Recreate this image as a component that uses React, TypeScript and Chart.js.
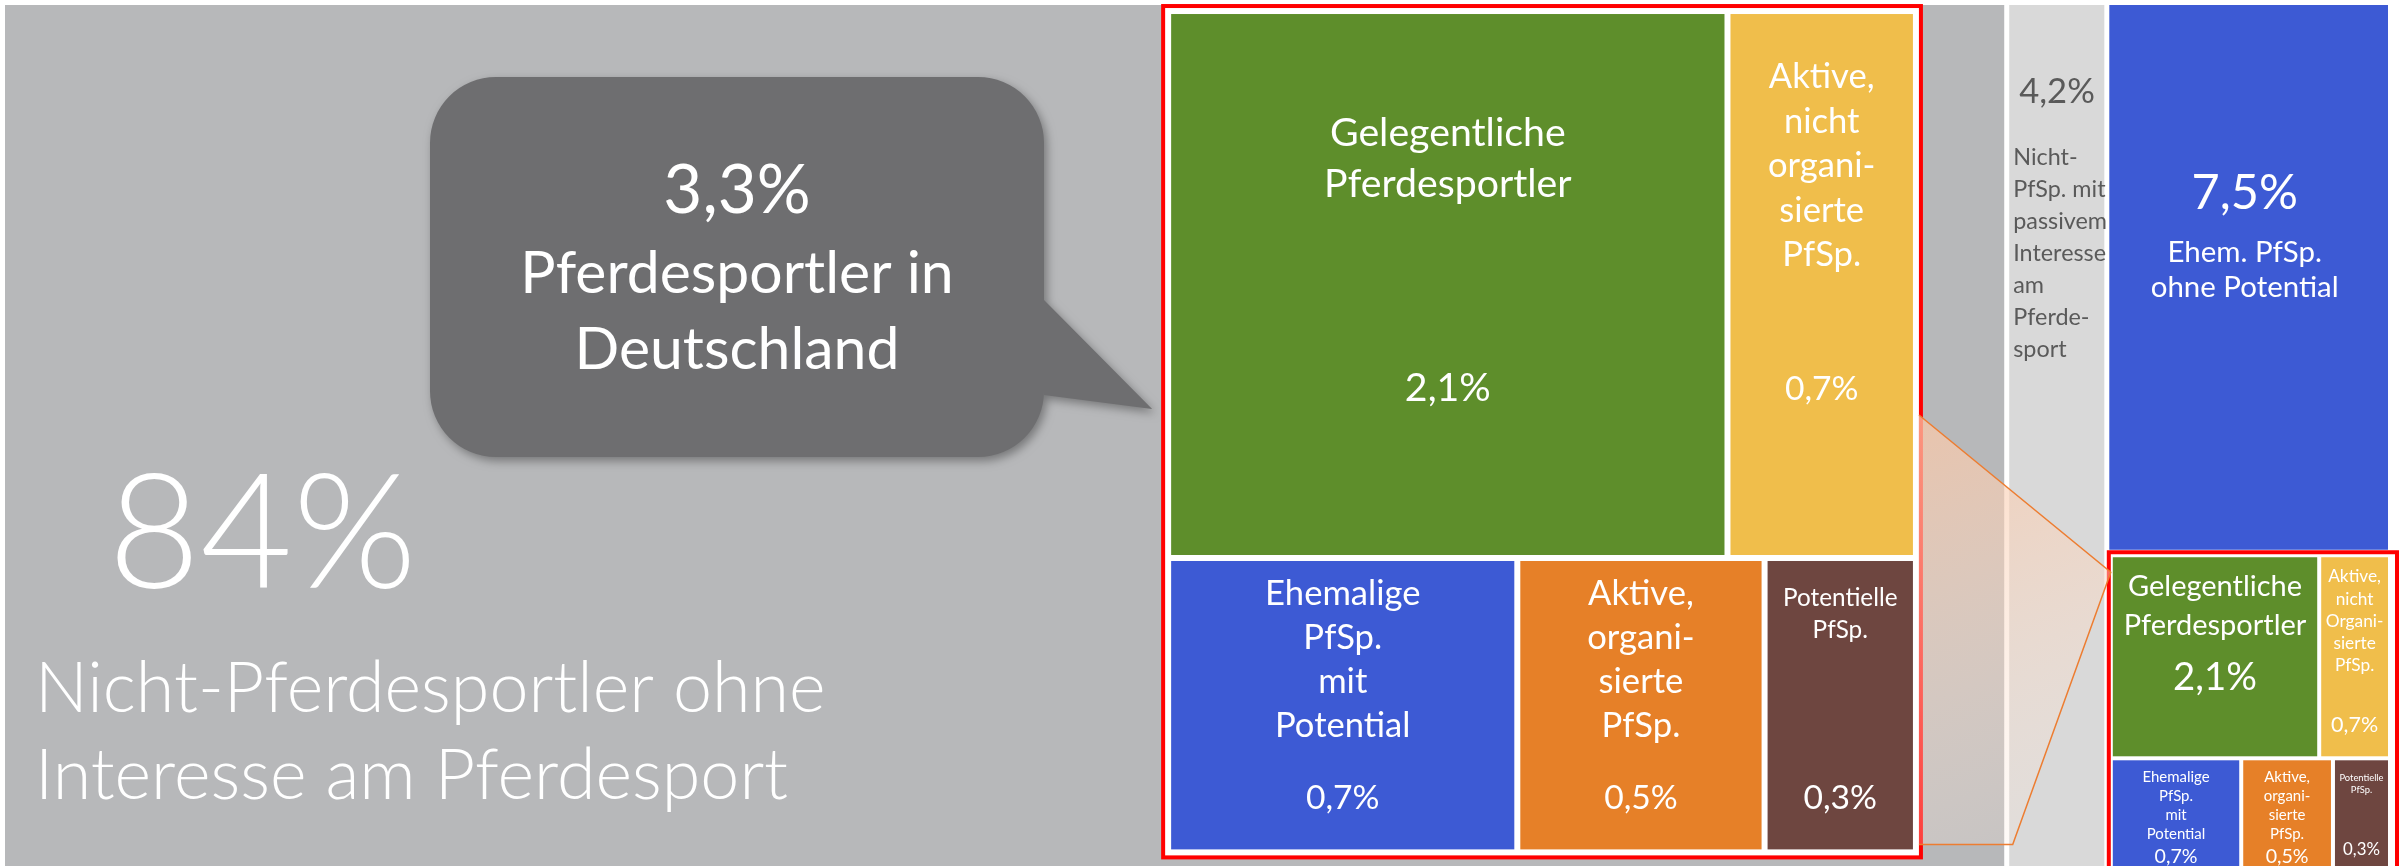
import React, { useEffect, useRef } from "react";
import { Chart, registerables } from "chart.js";

Chart.register(...registerables);

// ---------------- data ----------------
const overviewCategories = [
  "Nicht-Pferdesportler ohne Interesse am Pferdesport",
  "Nicht-PfSp. mit passivem Interesse am Pferdesport",
  "Ehem. PfSp. ohne Potential",
];
const overviewValues = [84, 4.2, 7.5];
const overviewLines = [
  ["Nicht-Pferdesportler ohne", "Interesse am Pferdesport"],
  ["Nicht-", "PfSp. mit", "passivem", "Interesse", "am", "Pferde-", "sport"],
  ["Ehem. PfSp.", "ohne Potential"],
];

const detailCategories = [
  "Gelegentliche Pferdesportler",
  "Aktive, nicht organisierte PfSp.",
  "Ehemalige PfSp. mit Potential",
  "Aktive, organisierte PfSp.",
  "Potentielle PfSp.",
];
const detailValues = [2.1, 0.7, 0.7, 0.5, 0.3];
const detailRows = [
  [0, 1],
  [2, 3, 4],
];
const detailLinesZoom = [
  ["Gelegentliche", "Pferdesportler"],
  ["Aktive,", "nicht", "organi-", "sierte", "PfSp."],
  ["Ehemalige", "PfSp.", "mit", "Potential"],
  ["Aktive,", "organi-", "sierte", "PfSp."],
  ["Potentielle", "PfSp."],
];
const detailLinesInset = [
  ["Gelegentliche", "Pferdesportler"],
  ["Aktive,", "nicht", "Organi-", "sierte", "PfSp."],
  ["Ehemalige", "PfSp.", "mit", "Potential"],
  ["Aktive,", "organi-", "sierte", "PfSp."],
  ["Potentielle", "PfSp."],
];

const calloutValue = 3.3;
const calloutLines = ["Pferdesportler in", "Deutschland"];

// ---------------- styles ----------------
const overviewColors = ["#b7b8ba", "#d9d9d9", "#3d5ad4"];
const detailColors = ["#5e8e2b", "#f0be4b", "#3d5ad4", "#e68028", "#6e4640"];
const FRAME_RED = "#ff0000";
const CONNECTOR = "#ed7d31";
const BUBBLE = "#6e6e70";
const GRAYTEXT = "#5a5a5a";
const FONT = 'Lato, "Open Sans", "DejaVu Sans", sans-serif';

type CellText = { first: number; step: number; size: number; value: number; vsize: number };
const zoomTextLayout: CellText[] = [
  { first: 132, step: 51, size: 42, value: 387, vsize: 42 },
  { first: 74, step: 44.5, size: 37, value: 386, vsize: 36 },
  { first: 44, step: 44, size: 37, value: 248, vsize: 36 },
  { first: 44, step: 44, size: 37, value: 248, vsize: 36 },
  { first: 45, step: 32, size: 26, value: 248, vsize: 36 },
];
const insetTextLayout: CellText[] = [
  { first: 39, step: 39, size: 31, value: 133, vsize: 41 },
  { first: 25, step: 22.3, size: 18.5, value: 175, vsize: 23 },
  { first: 22, step: 19, size: 16, value: 103, vsize: 21 },
  { first: 22, step: 19, size: 16, value: 103, vsize: 21 },
  { first: 21, step: 12, size: 10, value: 95, vsize: 18 },
];

// magnified copy of the detail group, in data units of the main scales
const ZOOM_FRAME = { x0: 48.6, x1: 80.4, y0: 0.12, y1: 99.0 };

const sum = (a: number[]) => a.reduce((s, v) => s + v, 0);
const fmt = (v: number) => String(v).replace(".", ",") + "%";
const DETAIL_TOTAL = sum(detailValues);
const COLUMN_VALUES = [overviewValues[0], overviewValues[1], overviewValues[2] + DETAIL_TOTAL];
const TOTAL = sum(COLUMN_VALUES);

let K: Record<number, number> | null = null;
function calibrate(ctx: CanvasRenderingContext2D) {
  if (K) return K;
  const k: Record<number, number> = {};
  for (const w of [300, 400]) {
    ctx.font = `${w} 100px ${FONT}`;
    const m = ctx.measureText("Pferdesportler").width;
    k[w] = m > 0 ? 589.5 / m : 1;
  }
  K = k;
  return k;
}

function txt(
  ctx: CanvasRenderingContext2D,
  s: string,
  x: number,
  y: number,
  size: number,
  o: { weight?: number; color?: string; align?: CanvasTextAlign } = {}
) {
  const weight = o.weight ?? 400;
  const k = (K as any)[weight] ?? 1;
  ctx.font = `${weight} ${(size * k).toFixed(2)}px ${FONT}`;
  ctx.fillStyle = o.color ?? "#ffffff";
  ctx.textAlign = o.align ?? "center";
  ctx.textBaseline = "alphabetic";
  ctx.fillText(s, x, y);
}

type R = { l: number; r: number; t: number; b: number };

function shrink(c: R, g: number, bounds: R): R {
  return {
    l: c.l + (c.l > bounds.l + 0.5 ? g / 2 : 0),
    r: c.r - (c.r < bounds.r - 0.5 ? g / 2 : 0),
    t: c.t + (c.t > bounds.t + 0.5 ? g / 2 : 0),
    b: c.b - (c.b < bounds.b - 0.5 ? g / 2 : 0),
  };
}

function layoutDetail(content: R, gap: number): R[] {
  const out: R[] = [];
  let yAcc = content.t;
  const H = content.b - content.t;
  const W = content.r - content.l;
  detailRows.forEach((row) => {
    const rs = sum(row.map((i) => detailValues[i]));
    const h = (H * rs) / DETAIL_TOTAL;
    let xAcc = content.l;
    row.forEach((i) => {
      const w = (W * detailValues[i]) / rs;
      out[i] = shrink({ l: xAcc, r: xAcc + w, t: yAcc, b: yAcc + h }, gap, content);
      xAcc += w;
    });
    yAcc += h;
  });
  return out;
}

function drawDetail(ctx: CanvasRenderingContext2D, cells: R[], lines: string[][], layout: CellText[]) {
  cells.forEach((c, i) => {
    ctx.fillStyle = detailColors[i];
    ctx.fillRect(c.l, c.t, c.r - c.l, c.b - c.t);
  });
  cells.forEach((c, i) => {
    const L = layout[i];
    const cx = (c.l + c.r) / 2;
    lines[i].forEach((s, j) => txt(ctx, s, cx, c.t + L.first + j * L.step, L.size));
    txt(ctx, fmt(detailValues[i]), cx, c.t + L.value, L.vsize);
  });
}

const treemapPlugin = {
  id: "pferdesportTreemap",
  afterDraw(chart: any) {
    const ctx: CanvasRenderingContext2D = chart.ctx;
    const xs = chart.scales.x;
    const ys = chart.scales.y;
    const X = (v: number) => xs.getPixelForValue(v);
    const Y = (v: number) => ys.getPixelForValue(v);
    calibrate(ctx);
    ctx.save();
    ctx.fillStyle = "#ffffff";
    ctx.fillRect(0, 0, chart.width, chart.height);

    const bounds: R = { l: X(0), r: X(TOTAL), t: Y(0), b: Y(100) };
    const GAP = 5;

    // ---- top level slice-and-dice ----
    let acc = 0;
    const cols: R[] = COLUMN_VALUES.map((v) => {
      const r = { l: X(acc), r: X(acc + v), t: Y(0), b: Y(100) };
      acc += v;
      return r;
    });
    const split = (100 * overviewValues[2]) / COLUMN_VALUES[2];
    const topCells: R[] = [
      cols[0],
      cols[1],
      { l: cols[2].l, r: cols[2].r, t: Y(0), b: Y(split) },
    ].map((c) => shrink(c, GAP, bounds));
    const insetRegion: R = { l: cols[2].l, r: cols[2].r, t: Y(split), b: Y(100) };

    topCells.forEach((c, i) => {
      ctx.fillStyle = overviewColors[i];
      ctx.fillRect(c.l, c.t, c.r - c.l, c.b - c.t);
    });

    // gray cell text
    const g = topCells[0];
    txt(ctx, fmt(overviewValues[0]), g.l + 103, g.t + 583, 166, { weight: 300, align: "left" });
    overviewLines[0].forEach((s, j) =>
      txt(ctx, s, g.l + 30, g.t + 707 + j * 87, 73, { weight: 300, align: "left" })
    );
    // light gray cell text
    const lg = topCells[1];
    txt(ctx, fmt(overviewValues[1]), lg.l + 10, lg.t + 98, 37, { color: GRAYTEXT, align: "left" });
    overviewLines[1].forEach((s, j) =>
      txt(ctx, s, lg.l + 4, lg.t + 160 + j * 32, 25, { color: GRAYTEXT, align: "left" })
    );
    // blue cell text
    const bl = topCells[2];
    const bcx = (bl.l + bl.r) / 2 - 4;
    txt(ctx, fmt(overviewValues[2]), bcx, bl.t + 204, 52);
    overviewLines[2].forEach((s, j) => txt(ctx, s, bcx, bl.t + 257 + j * 35, 31.5));

    // ---- inset (detail group in its real place) ----
    const insetContent: R = { l: insetRegion.l + 6, t: insetRegion.t + 5, r: insetRegion.r, b: insetRegion.b };
    const insetCells = layoutDetail(insetContent, 4);
    drawDetail(ctx, insetCells, detailLinesInset, insetTextLayout);
    ctx.strokeStyle = FRAME_RED;
    ctx.lineWidth = 4;
    ctx.strokeRect(insetRegion.l + 2, insetRegion.t, bounds.r + 9 - (insetRegion.l + 2), bounds.b + 20 - insetRegion.t);

    // ---- magnified copy ----
    const zf: R = { l: X(ZOOM_FRAME.x0), r: X(ZOOM_FRAME.x1), t: Y(ZOOM_FRAME.y0), b: Y(ZOOM_FRAME.y1) };
    ctx.fillStyle = "#ffffff";
    ctx.fillRect(zf.l, zf.t, zf.r - zf.l, zf.b - zf.t);
    const zc: R = { l: zf.l + 8, r: zf.r - 8, t: zf.t + 8, b: zf.b - 8 };
    const zoomCells = layoutDetail(zc, 6);
    drawDetail(ctx, zoomCells, detailLinesZoom, zoomTextLayout);
    ctx.strokeStyle = FRAME_RED;
    ctx.lineWidth = 4;
    ctx.strokeRect(zf.l, zf.t, zf.r - zf.l, zf.b - zf.t);

    // ---- connector between magnified copy and inset ----
    const A = { x: zf.r - 2, y: zc.t + 0.48 * (zc.b - zc.t) };
    const D = { x: zf.r - 2, y: zf.b - 13 };
    const B = { x: insetRegion.l + 4, y: insetRegion.t + 20 };
    const C = { x: cols[1].l + 6, y: D.y };
    const grad = ctx.createLinearGradient(A.x, A.y, C.x + 60, C.y);
    grad.addColorStop(0, "rgba(250,200,168,0.75)");
    grad.addColorStop(1, "rgba(250,235,225,0.22)");
    ctx.beginPath();
    ctx.moveTo(A.x, A.y);
    ctx.lineTo(B.x, B.y);
    ctx.lineTo(C.x, C.y);
    ctx.lineTo(D.x, D.y);
    ctx.closePath();
    ctx.fillStyle = grad;
    ctx.fill();
    ctx.beginPath();
    ctx.moveTo(A.x, A.y);
    ctx.lineTo(B.x, B.y);
    ctx.lineTo(C.x, C.y);
    ctx.lineTo(D.x, D.y);
    ctx.strokeStyle = CONNECTOR;
    ctx.lineWidth = 1.5;
    ctx.stroke();

    // ---- speech bubble (callout) ----
    const bb = { l: g.l + 425, t: g.t + 72, r: g.l + 1039, b: g.t + 452 };
    const rad = 66;
    const tip = { x: zf.l - 11, y: 409 };
    ctx.save();
    ctx.shadowColor = "rgba(0,0,0,0.35)";
    ctx.shadowBlur = 10;
    ctx.shadowOffsetX = 3;
    ctx.shadowOffsetY = 4;
    ctx.beginPath();
    ctx.moveTo(bb.l + rad, bb.t);
    ctx.lineTo(bb.r - rad, bb.t);
    ctx.arcTo(bb.r, bb.t, bb.r, bb.t + rad, rad);
    ctx.lineTo(bb.r, 300);
    ctx.lineTo(tip.x, tip.y);
    ctx.lineTo(bb.r, 395);
    ctx.lineTo(bb.r, bb.b - rad);
    ctx.arcTo(bb.r, bb.b, bb.r - rad, bb.b, rad);
    ctx.lineTo(bb.l + rad, bb.b);
    ctx.arcTo(bb.l, bb.b, bb.l, bb.b - rad, rad);
    ctx.lineTo(bb.l, bb.t + rad);
    ctx.arcTo(bb.l, bb.t, bb.l + rad, bb.t, rad);
    ctx.closePath();
    ctx.fillStyle = BUBBLE;
    ctx.fill();
    ctx.restore();
    const bcx2 = (bb.l + bb.r) / 2;
    txt(ctx, fmt(calloutValue), bcx2, 213, 72, { weight: 400 });
    calloutLines.forEach((s, j) => txt(ctx, s, bcx2, 293 + j * 76, 63, { weight: 400 }));

    ctx.restore();
  },
};

export default function App() {
  const ref = useRef<HTMLCanvasElement>(null);
  useEffect(() => {
    document.body.style.margin = "0";
    const chart = new Chart(ref.current as HTMLCanvasElement, {
      type: "scatter",
      data: { datasets: [] },
      options: {
        responsive: false,
        animation: false,
        devicePixelRatio: 1,
        layout: { padding: { left: 5, top: 5, right: 19, bottom: 0 } },
        scales: {
          x: { type: "linear", min: 0, max: TOTAL, display: false },
          y: { type: "linear", min: 0, max: 100, reverse: true, display: false },
        },
        plugins: { legend: { display: false }, tooltip: { enabled: false } },
      },
      plugins: [treemapPlugin],
    } as any);
    return () => chart.destroy();
  }, []);
  return (
    <div style={{ width: 2407, height: 866 }}>
      <canvas ref={ref} width={2407} height={866} style={{ display: "block" }} />
    </div>
  );
}
